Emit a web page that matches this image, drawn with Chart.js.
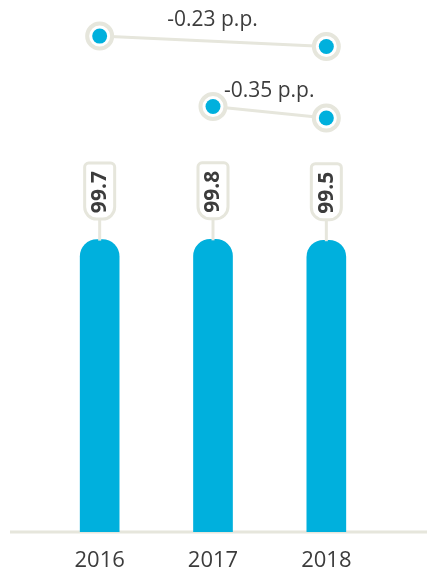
<!DOCTYPE html>
<html>
<head>
<meta charset="utf-8">
<title>Share, 2016–2018</title>
<script src="https://cdn.jsdelivr.net/npm/chart.js@4/dist/chart.umd.min.js"></script>
<style>
  html, body { margin: 0; padding: 0; background: #ffffff; }
  #wrap { width: 427px; height: 571px; }
</style>
</head>
<body>
<div id="wrap"><canvas id="chart" width="427" height="571"></canvas></div>
<script>
// Years and yearly values
const years = ['2016', '2017', '2018'];
const values = [99.7, 99.8, 99.5];

// Comparison markers above the bars (hidden 0–100 scale)
const gapLineA = [95.0, null, 93.0];
const gapLineB = [null, 81.5, 79.3];
const gapLabels = ['-0.23 p.p.', '-0.35 p.p.'];

const BLUE = '#00b0dd';
const BEIGE = '#e6e6dc';
const TEXT = '#3c3c3c';
const FONT = '"Open Sans", "Noto Sans", sans-serif';

// Baseline running across the whole width
const baselinePlugin = {
  id: 'baseline',
  beforeDatasetsDraw(chart) {
    const ctx = chart.ctx;
    const y = chart.scales.y.getPixelForValue(0);
    ctx.save();
    ctx.strokeStyle = BEIGE;
    ctx.lineWidth = 3;
    ctx.beginPath();
    ctx.moveTo(10, y);
    ctx.lineTo(chart.width, y);
    ctx.stroke();
    ctx.restore();
  }
};

// Value tags hanging above each bar
const tagPlugin = {
  id: 'valueTags',
  afterDatasetsDraw(chart) {
    const ctx = chart.ctx;
    const meta = chart.getDatasetMeta(0);
    ctx.save();
    meta.data.forEach((bar, i) => {
      const x = bar.x;
      const top = bar.y;
      const half = 15;
      const boxTop = top - 76.5;
      const boxBottom = top - 20.5;
      const rTop = 4;
      const rBottom = 12;

      // stem
      ctx.strokeStyle = BEIGE;
      ctx.lineWidth = 3;
      ctx.beginPath();
      ctx.moveTo(x, boxBottom);
      ctx.lineTo(x, top + 1);
      ctx.stroke();

      // tag body
      ctx.beginPath();
      ctx.moveTo(x - half + rTop, boxTop);
      ctx.lineTo(x + half - rTop, boxTop);
      ctx.arcTo(x + half, boxTop, x + half, boxTop + rTop, rTop);
      ctx.lineTo(x + half, boxBottom - rBottom);
      ctx.arcTo(x + half, boxBottom, x + half - rBottom, boxBottom, rBottom);
      ctx.lineTo(x - half + rBottom, boxBottom);
      ctx.arcTo(x - half, boxBottom, x - half, boxBottom - rBottom, rBottom);
      ctx.lineTo(x - half, boxTop + rTop);
      ctx.arcTo(x - half, boxTop, x - half + rTop, boxTop, rTop);
      ctx.closePath();
      ctx.fillStyle = '#ffffff';
      ctx.fill();
      ctx.stroke();

      // rotated value
      ctx.save();
      ctx.translate(x + 0.5, (boxTop + boxBottom) / 2 + 1);
      ctx.rotate(-Math.PI / 2);
      ctx.fillStyle = TEXT;
      ctx.font = 'bold 21px ' + FONT;
      ctx.textAlign = 'center';
      ctx.textBaseline = 'middle';
      ctx.fillText(String(chart.data.datasets[0].data[i]), 0, 0);
      ctx.restore();
    });
    ctx.restore();
  }
};

// Change labels above each comparison line
const gapLabelPlugin = {
  id: 'gapLabels',
  afterDatasetsDraw(chart) {
    const ctx = chart.ctx;
    ctx.save();
    ctx.fillStyle = TEXT;
    ctx.font = '21px ' + FONT;
    ctx.textAlign = 'center';
    ctx.textBaseline = 'alphabetic';
    [1, 2].forEach((dsIndex, k) => {
      const ds = chart.data.datasets[dsIndex];
      const pts = chart.getDatasetMeta(dsIndex).data.filter((p, i) => ds.data[i] !== null);
      if (pts.length < 2) return;
      const a = pts[0], b = pts[pts.length - 1];
      const mx = (a.x + b.x) / 2;
      const my = (a.y + b.y) / 2;
      ctx.fillText(gapLabels[k], mx - 0.5, my - 15.5);
    });
    ctx.restore();
  }
};

const ringStyle = {
  type: 'line',
  yAxisID: 'yGap',
  spanGaps: true,
  borderColor: BEIGE,
  borderWidth: 3,
  pointRadius: 12.5,
  pointBorderWidth: 4,
  pointBorderColor: BEIGE,
  pointBackgroundColor: '#ffffff',
  pointHoverRadius: 12.5,
  order: 3
};

const dotStyle = {
  type: 'line',
  yAxisID: 'yGap',
  showLine: false,
  pointRadius: 7.5,
  pointBorderWidth: 0,
  pointBackgroundColor: BLUE,
  pointHoverRadius: 7.5,
  order: 1
};

new Chart(document.getElementById('chart'), {
  type: 'bar',
  data: {
    labels: years,
    datasets: [
      {
        data: values,
        yAxisID: 'y',
        backgroundColor: BLUE,
        barThickness: 39,
        borderRadius: { topLeft: 17, topRight: 17, bottomLeft: 0, bottomRight: 0 },
        borderSkipped: false,
        order: 4
      },
      Object.assign({ data: gapLineA }, ringStyle),
      Object.assign({ data: gapLineB }, ringStyle),
      Object.assign({ data: gapLineA }, dotStyle),
      Object.assign({ data: gapLineB }, dotStyle)
    ]
  },
  options: {
    responsive: false,
    animation: false,
    layout: { autoPadding: false, padding: { top: 10, bottom: 0, left: 43, right: 44 } },
    plugins: {
      legend: { display: false },
      tooltip: { enabled: false }
    },
    scales: {
      x: {
        grid: { display: false, drawTicks: false },
        border: { display: false },
        ticks: {
          color: TEXT,
          padding: 18,
          font: { family: FONT, size: 22, lineHeight: 1 }
        },
        afterFit(scale) { scale.height = 39; }
      },
      y: { display: false, min: 0, max: 178 },
      yGap: { display: false, min: 0, max: 100 }
    }
  },
  plugins: [baselinePlugin, tagPlugin, gapLabelPlugin]
});
</script>
</body>
</html>
